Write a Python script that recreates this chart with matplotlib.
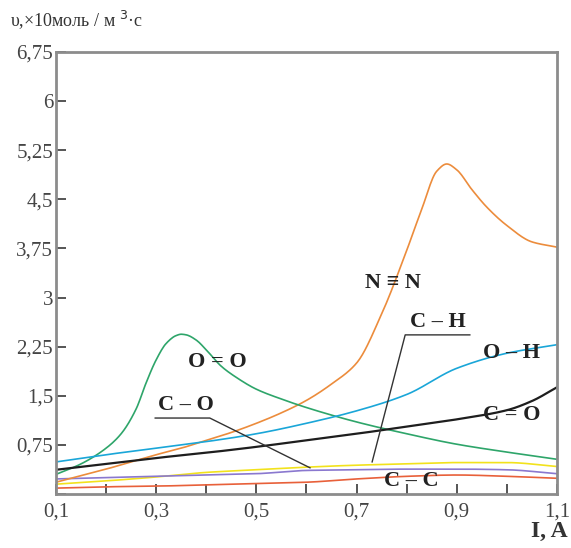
import matplotlib
matplotlib.use("Agg")
import numpy as np
import matplotlib.pyplot as plt
from matplotlib.ticker import FixedLocator, FixedFormatter

plt.rcParams['font.family'] = ['Liberation Serif', 'DejaVu Serif']

# ---- data ----
x_nn = [0.1, 0.15, 0.2, 0.25, 0.3, 0.35, 0.4, 0.45, 0.5, 0.55, 0.6, 0.65, 0.7, 0.75,
        0.8, 0.83, 0.86, 0.88, 0.9, 0.93, 0.96, 1.0, 1.05, 1.1]
y_nn = [0.18, 0.28, 0.38, 0.49, 0.6, 0.7, 0.82, 0.94, 1.08, 1.24, 1.43, 1.68, 2.0, 2.75,
        3.72, 4.35, 4.93, 5.04, 4.95, 4.65, 4.38, 4.1, 3.85, 3.77]

x_oo = [0.1, 0.15, 0.2, 0.23, 0.26, 0.28, 0.3, 0.32, 0.34, 0.35, 0.36, 0.38, 0.4, 0.43,
        0.46, 0.5, 0.55, 0.6, 0.7, 0.8, 0.9, 1.0, 1.1]
y_oo = [0.3, 0.46, 0.7, 0.92, 1.3, 1.7, 2.05, 2.3, 2.42, 2.44, 2.43, 2.35, 2.2, 1.95,
        1.78, 1.6, 1.45, 1.32, 1.1, 0.92, 0.76, 0.64, 0.53]

x_std = [0.1, 0.2, 0.3, 0.4, 0.5, 0.6, 0.7, 0.8, 0.9, 1.0, 1.1]
y_oh = [0.49, 0.6, 0.7, 0.8, 0.92, 1.08, 1.27, 1.52, 1.92, 2.15, 2.28]
y_ch = [0.15, 0.2, 0.26, 0.33, 0.37, 0.41, 0.44, 0.46, 0.48, 0.48, 0.42]
y_co = [0.23, 0.25, 0.27, 0.29, 0.31, 0.36, 0.37, 0.38, 0.38, 0.37, 0.31]
y_cc = [0.09, 0.11, 0.12, 0.14, 0.16, 0.18, 0.23, 0.27, 0.29, 0.27, 0.24]

x_c2o = [0.1, 0.2, 0.3, 0.4, 0.5, 0.6, 0.7, 0.8, 0.9, 1.0, 1.05, 1.1]
y_c2o = [0.37, 0.46, 0.55, 0.63, 0.72, 0.82, 0.92, 1.03, 1.14, 1.28, 1.42, 1.63]

y_ticks = [0, 0.75, 1.5, 2.25, 3, 3.75, 4.5, 5.25, 6, 6.75]
y_ticklabels = ["", "0,75", "1,5", "2,25", "3", "3,75", "4,5", "5,25", "6", "6,75"]
x_ticks = [0.1, 0.2, 0.3, 0.4, 0.5, 0.6, 0.7, 0.8, 0.9, 1.0, 1.1]
x_ticklabels = ["0,1", "", "0,3", "", "0,5", "", "0,7", "", "0,9", "", "1,1"]


def pchip(x, y, n=400):
    """Monotone cubic rendering of the read points (for smooth drawing only)."""
    x = np.asarray(x, float)
    y = np.asarray(y, float)
    h = np.diff(x)
    d = np.diff(y) / h
    m = np.zeros_like(y)
    for k in range(1, len(x) - 1):
        if d[k - 1] * d[k] > 0:
            w1 = 2 * h[k] + h[k - 1]
            w2 = h[k] + 2 * h[k - 1]
            m[k] = (w1 + w2) / (w1 / d[k - 1] + w2 / d[k])
    m[0] = d[0]
    m[-1] = d[-1]
    xs = np.linspace(x[0], x[-1], n)
    idx = np.clip(np.searchsorted(x, xs) - 1, 0, len(x) - 2)
    t = (xs - x[idx]) / h[idx]
    h00 = 2 * t**3 - 3 * t**2 + 1
    h10 = t**3 - 2 * t**2 + t
    h01 = -2 * t**3 + 3 * t**2
    h11 = t**3 - t**2
    ys = h00 * y[idx] + h10 * h[idx] * m[idx] + h01 * y[idx + 1] + h11 * h[idx] * m[idx + 1]
    return xs, ys


# ---- figure ----
fig = plt.figure(figsize=(5.71, 5.48), dpi=100)
ax = fig.add_axes([56/571, 54/548, 501/571, 442/548])

lw = 1.2
ax.plot(*pchip(x_std, y_cc), color='#e8603a', lw=lw)
ax.plot(*pchip(x_std, y_ch), color='#f2e21c', lw=lw)
ax.plot(*pchip(x_std, y_co), color='#8a78cf', lw=lw)
ax.plot(*pchip(x_nn, y_nn), color='#ec8c3c', lw=lw)
ax.plot(*pchip(x_oo, y_oo), color='#2ea56a', lw=lw)
ax.plot(*pchip(x_std, y_oh), color='#1aa6d8', lw=lw)
ax.plot(*pchip(x_c2o, y_c2o), color='#1e1e1e', lw=1.6)

ax.set_xlim(0.1, 1.1)
ax.set_ylim(0, 6.75)

ax.yaxis.set_major_locator(FixedLocator(y_ticks))
ax.yaxis.set_major_formatter(FixedFormatter(y_ticklabels))
ax.xaxis.set_major_locator(FixedLocator(x_ticks))
ax.xaxis.set_major_formatter(FixedFormatter(x_ticklabels))

for s in ax.spines.values():
    s.set_color('#8c8c8c')
    s.set_linewidth(2.0)
ax.tick_params(axis='both', direction='in', length=7, width=1.4, color='#555555',
               labelsize=15, labelcolor='#454545')
ax.tick_params(axis='y', pad=2)
ax.tick_params(axis='x', pad=6)

tk = dict(fontsize=16, fontweight='bold', color='#222222', ha='center', va='center')
ax.text(0.773, 3.22, "N ≡ N", **tk)
ax.text(0.423, 2.02, "O = O", **tk)
ax.text(1.01, 2.15, "O – H", **tk)
ax.text(1.01, 1.21, "C = O", **tk)
ax.text(0.81, 0.2, "C – C", **tk)
ax.text(0.36, 1.36, "C – O", **tk)
ax.text(0.862, 2.63, "C – H", **tk)

# leader lines
ax.plot([0.298, 0.407, 0.607], [1.16, 1.16, 0.40], color='#333333', lw=1.0)
ax.plot([0.926, 0.797, 0.731], [2.43, 2.43, 0.49], color='#333333', lw=1.0)

fig.text(10/571, 1 - 20/548, "υ,×10моль / м $^{3}$·с", fontsize=13, color='#333333',
         ha='left', va='center')
fig.text(568/571, 1 - 531/548, "I, A", fontsize=17, fontweight='bold', color='#333333',
         ha='right', va='center')

fig.savefig("out.png", dpi=100)
